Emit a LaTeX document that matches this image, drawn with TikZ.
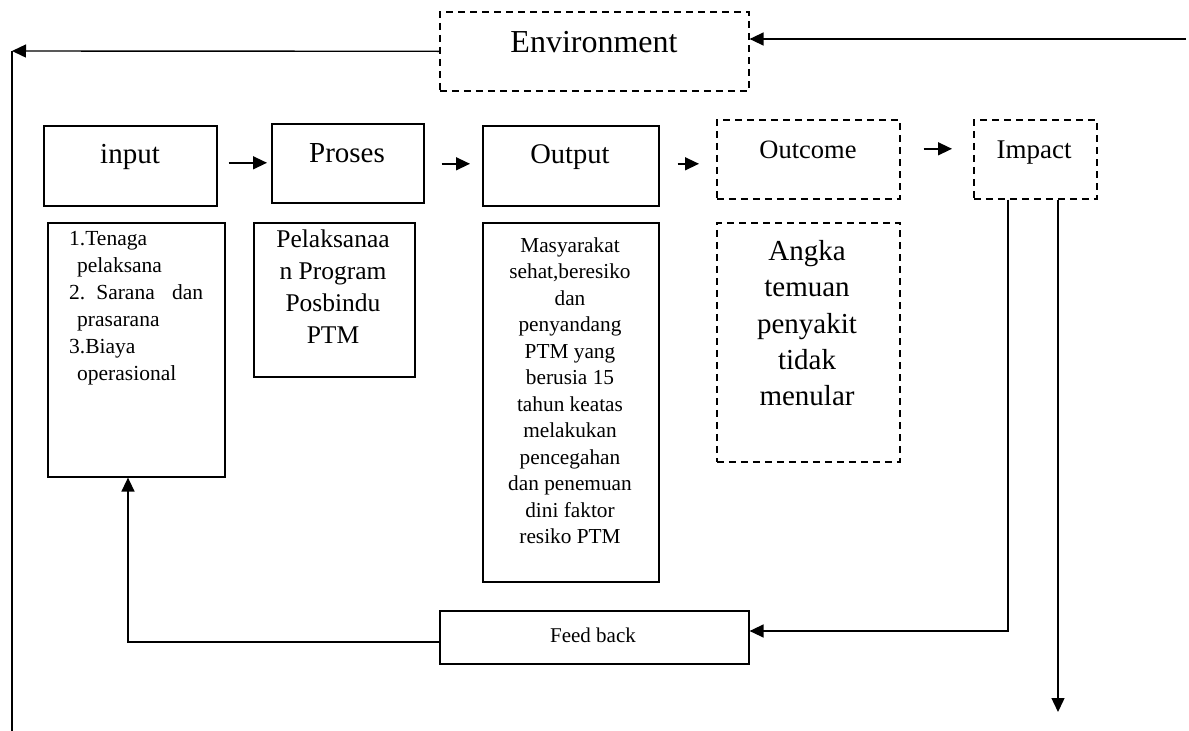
\documentclass[tikz,border=0pt]{standalone}
\usepackage{fontspec}
\setmainfont{Liberation Serif}
\usetikzlibrary{arrows.meta,calc}
\begin{document}
\begin{tikzpicture}[x=1pt,y=-1pt,
  box/.style={draw, line width=1.6pt, inner sep=0pt, anchor=north west},
  dbox/.style={box, dash pattern=on 7pt off 5pt},
  arr/.style={-{Triangle[length=14pt,width=13pt]}, line width=1.4pt},
  ln/.style={line width=1.4pt},
  txt/.style={inner sep=0pt, anchor=base},
  fs/.style n args={2}{font=\fontsize{#1}{#2}\selectfont}]
\useasboundingbox (0,0) rectangle (1189,731);

% top row
\node[dbox, minimum width=309pt, minimum height=79pt] (env) at (439,11) {};
\node[txt, fs={32}{38}] (envT) at (594,52) {Environment};

\node[box, minimum width=173pt, minimum height=80pt] (input) at (43,125) {};
\node[txt, fs={29}{35}] (inputT) at (130,163) {input};

\node[box, minimum width=152pt, minimum height=79pt] (proses) at (271,123) {};
\node[txt, fs={29}{35}] (prosesT) at (347,162) {Proses};

\node[box, minimum width=176pt, minimum height=80pt] (output) at (482,125) {};
\node[txt, fs={28.5}{34}] (outputT) at (570,163) {Output};

\node[dbox, minimum width=183pt, minimum height=79pt] (outcome) at (716,119) {};
\node[txt, fs={26.5}{32}] (outcomeT) at (808,158) {Outcome};

\node[dbox, minimum width=123pt, minimum height=79pt] (impact) at (973,119) {};
\node[txt, fs={27}{32}] (impactT) at (1034,158) {Impact};

% second row
\node[box, minimum width=177pt, minimum height=254pt] (inlist) at (47,222) {};
\node[inner sep=0pt, anchor=north west, align=left, fs={21.5}{27}] (inlistT) at (69,231.5)
  {1.Tenaga\\
   \hspace*{8pt}pelaksana\\
   \makebox[134pt][l]{2.\hspace{11pt}Sarana\hfill dan}\\
   \hspace*{8pt}prasarana\\
   3.Biaya\\
   \hspace*{8pt}operasional};

\node[box, minimum width=161pt, minimum height=154pt] (pel) at (253,222) {};
\node[inner sep=0pt, anchor=north, align=center, fs={25.5}{32}] (pelT) at (333,230)
  {Pelaksanaa\\n Program\\Posbindu\\PTM};

\node[box, minimum width=176pt, minimum height=359pt] (outdet) at (482,222) {};
\node[inner sep=0pt, anchor=north, align=center, fs={21.3}{26.5}] (outdetT) at (570,237.5)
  {Masyarakat\\sehat,beresiko\\dan\\penyandang\\PTM yang\\berusia 15\\tahun keatas\\melakukan\\pencegahan\\dan penemuan\\dini faktor\\resiko PTM};

\node[dbox, minimum width=183pt, minimum height=239pt] (angka) at (716,222) {};
\node[inner sep=0pt, anchor=north, align=center, fs={29}{36.25}] (angkaT) at (807,240.2)
  {Angka\\temuan\\penyakit\\tidak\\menular};

\node[box, minimum width=309pt, minimum height=53pt] (feed) at (439,610) {};
\node[txt, fs={21}{25}] (feedT) at (593,642) {Feed back};

% coordinates
\coordinate (envL) at (12,51);
\coordinate (envB) at (12,731);
\coordinate (envR) at (1186,39);
\coordinate (fbTurn) at (1008,631);
\coordinate (impEnd) at (1058,712);
\coordinate (fbL) at (128,642);

% connectors
\draw[arr] (env.west) -- (envL);
\draw[ln] (envL) -- (envB);
\draw[arr] (envR) -- (envR -| env.east);

\draw[arr, shorten <=11pt, shorten >=4pt] ([yshift=3pt]input.east) -- ([yshift=3pt]input.east -| proses.west);
\draw[arr, shorten <=17pt, shorten >=12pt] ([yshift=-0.5pt]proses.east) -- ([yshift=-0.5pt]proses.east -| output.west);
\draw[arr, shorten <=18pt, shorten >=17pt] ([yshift=2pt]output.east) -- ([yshift=2pt]output.east -| outcome.west);
\draw[arr, shorten <=23pt, shorten >=21pt] ([yshift=10.5pt]outcome.east) -- ([yshift=10.5pt]outcome.east -| impact.west);

\draw[arr] (impact.south -| fbTurn) -- (fbTurn) -- (fbTurn -| feed.east);
\draw[arr] (impact.south -| impEnd) -- (impEnd);
\draw[arr] (feed.west |- fbL) -- (fbL) -- (fbL |- inlist.south);
\end{tikzpicture}
\end{document}
